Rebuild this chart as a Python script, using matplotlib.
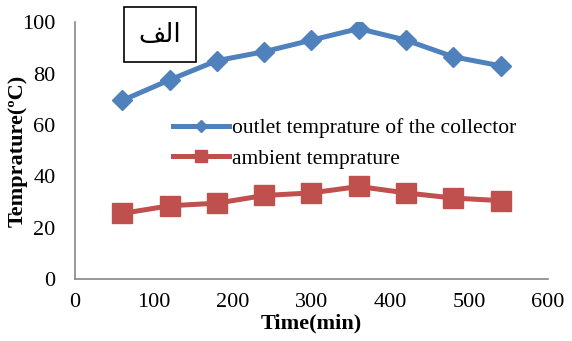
import matplotlib
matplotlib.use("Agg")
from matplotlib import pyplot as plt

# time (min) and temperatures
time_min = [60, 120, 180, 240, 300, 360, 420, 480, 540]
outlet_temp = [69.5, 77.5, 85, 88.5, 93, 97.5, 93, 86.5, 83]
ambient_temp = [25.5, 28.5, 29.5, 32.5, 33.5, 36, 33.5, 31.5, 30.5]
x_ticks = [0, 100, 200, 300, 400, 500, 600]
y_ticks = [0, 20, 40, 60, 80, 100]

plt.rcParams['font.family'] = ['Liberation Serif', 'DejaVu Sans']

fig = plt.figure(figsize=(5.72, 3.41), dpi=100)
ax = fig.add_axes([0.131, 0.182, 0.827, 0.753])

ax.plot(time_min, outlet_temp, color='#4F81BD', lw=3.6, marker='D', ms=10,
        label='outlet temprature of the collector')
ax.plot(time_min, ambient_temp, color='#C0504D', lw=3.6, marker='s', ms=14,
        label='ambient temprature')

ax.set_xlim(0, 600)
ax.set_ylim(0, 100)
ax.set_xticks(x_ticks)
ax.set_yticks(y_ticks)
ax.tick_params(length=0, labelsize=16)
ax.tick_params(axis='x', pad=10)
ax.tick_params(axis='y', pad=14)
for s in ['top', 'right']:
    ax.spines[s].set_visible(False)
for s in ['left', 'bottom']:
    ax.spines[s].set_color('#868686')
    ax.spines[s].set_linewidth(1.2)

ax.set_xlabel('Time(min)', fontsize=16, fontweight='bold', labelpad=1)
ax.set_ylabel('Temprature(ºC)', fontsize=16, fontweight='bold', labelpad=-4)

leg = ax.legend(loc='upper left', bbox_to_anchor=(0.19, 0.66), frameon=False,
                fontsize=15.5, handlelength=2.6, markerscale=0.6,
                handletextpad=0.1, labelspacing=0.5, borderaxespad=0)

# Arabic label "الف" in a box (presentation forms, visual order)
fig.text(0.28, 0.898, '\uFED2\uFEDF\uFE8D', family='DejaVu Sans', fontsize=19,
         ha='center', va='center',
         bbox=dict(boxstyle='square,pad=0.55', fc='white', ec='black', lw=1.2))

fig.savefig('out.png', dpi=100)
